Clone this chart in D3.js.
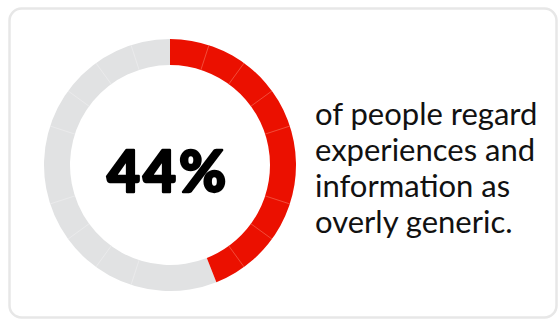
<!DOCTYPE html>
<html>
<head>
<meta charset="utf-8">
<script src="https://cdn.jsdelivr.net/npm/d3@7"></script>
<style>
  html, body { margin: 0; padding: 0; background: #fff; }
  svg { display: block; }
</style>
</head>
<body>
<svg id="chart" width="559" height="320"></svg>
<script>
// Share of people who regard experiences and information as overly generic
const shareLabel = "44%";
const shareValue = 44;
const total = 100;
const captionLines = ["of people regard", "experiences and", "information as", "overly generic."];
// positions (in percent of the ring) of the faint dividers drawn across the ring
const dividers = [5, 10, 15, 20, 30, 35, 40, 55, 60, 65, 70, 80, 85, 90, 95];

const svg = d3.select("#chart");

// card outline
svg.append("rect")
  .attr("x", 9.5).attr("y", 8.5)
  .attr("width", 547).attr("height", 309)
  .attr("rx", 12).attr("ry", 12)
  .attr("fill", "#fff")
  .attr("stroke", "#e7e7e7")
  .attr("stroke-width", 2.5);

const cx = 170, cy = 165;
const outerR = 126, innerR = 100;

const angle = d3.scaleLinear().domain([0, total]).range([0, 2 * Math.PI]);
const arc = d3.arc().innerRadius(innerR).outerRadius(outerR);

const g = svg.append("g").attr("transform", `translate(${cx},${cy})`);

// remainder (grey) and share (red)
const parts = [
  { start: shareValue, end: total, color: "#e1e2e3", line: "#ececed" },
  { start: 0, end: shareValue, color: "#eb1000", line: "#f35a48" }
];

g.selectAll("path.part")
  .data(parts)
  .join("path")
  .attr("class", "part")
  .attr("d", d => arc({ startAngle: angle(d.start), endAngle: angle(d.end) }))
  .attr("fill", d => d.color);

// faint dividers across the ring
g.selectAll("line.div")
  .data(dividers)
  .join("line")
  .attr("class", "div")
  .attr("x1", d => innerR * Math.sin(angle(d)))
  .attr("y1", d => -innerR * Math.cos(angle(d)))
  .attr("x2", d => outerR * Math.sin(angle(d)))
  .attr("y2", d => -outerR * Math.cos(angle(d)))
  .attr("stroke", d => d < shareValue ? parts[1].line : parts[0].line)
  .attr("stroke-width", 0.8);

// big percentage in the centre, stroked to give a heavy weight
g.append("text")
  .attr("x", -2)
  .attr("y", 27)
  .attr("text-anchor", "middle")
  .attr("font-family", "Lato, 'DejaVu Sans', sans-serif")
  .attr("font-weight", 900)
  .attr("font-size", 57)
  .attr("letter-spacing", 3)
  .attr("fill", "#000")
  .attr("stroke", "#000")
  .attr("stroke-width", 2.4)
  .attr("stroke-linejoin", "round")
  .text(shareLabel);

// caption on the right
svg.append("text")
  .attr("x", 315)
  .attr("y", 125)
  .attr("font-family", "Lato, 'Open Sans', sans-serif")
  .attr("font-size", 31)
  .attr("fill", "#111")
  .selectAll("tspan")
  .data(captionLines)
  .join("tspan")
  .attr("x", 315)
  .attr("dy", (d, i) => i === 0 ? 0 : 36)
  .text(d => d);
</script>
</body>
</html>
